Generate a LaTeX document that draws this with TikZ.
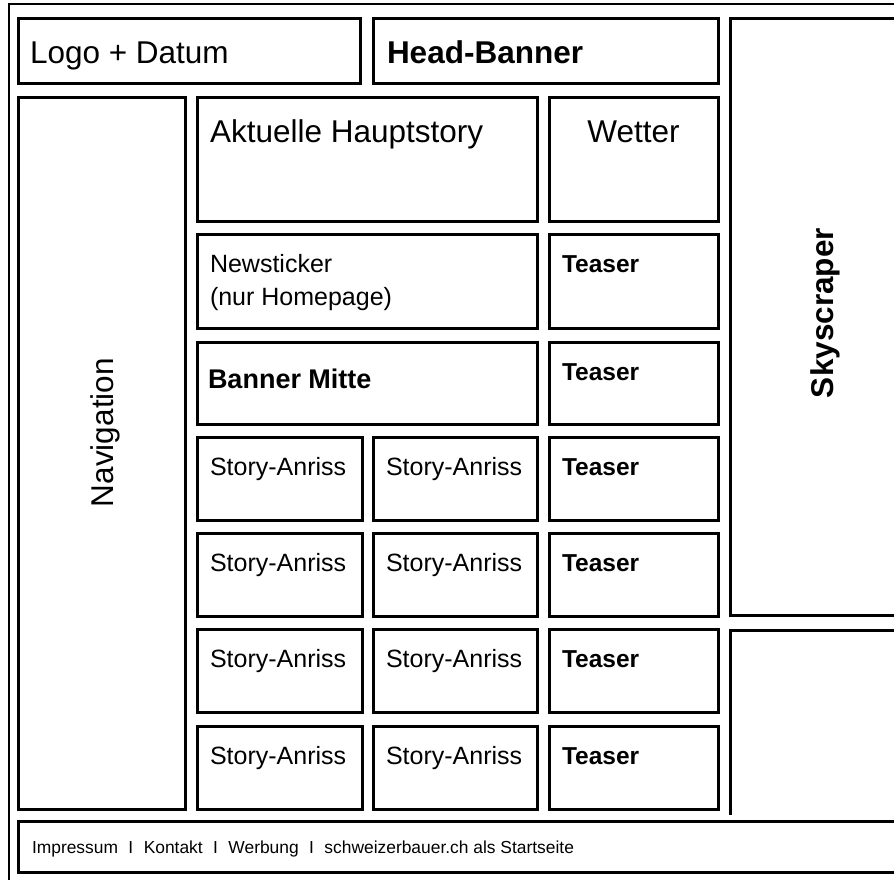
\documentclass[tikz,border=0pt]{standalone}
\usepackage{fontspec}
\setmainfont{Liberation Sans}
\newcommand\footsep{\hspace{0.6em}I\hspace{0.6em}}
\begin{document}
\begin{tikzpicture}[x=1pt, y=-1pt, box/.style={draw, line width=3pt, line join=miter}, lbl/.style={anchor=base west, inner sep=0pt, outer sep=0pt}, big/.style={font=\fontsize{31.5}{36}\selectfont}, mid/.style={font=\fontsize{25}{33}\selectfont}, line join=miter]
      \useasboundingbox (0,0) rectangle (894,879);
      \clip (0,0) rectangle (894,879);

      % outer frame and head
      \draw[line width=2.6pt] (9,4) rectangle (930,910);
      \draw[box] (18,18) rectangle (360,83);
      \draw[box] (373,18) rectangle (718,83);
      \draw[box] (730,18) rectangle (930,615);
      \draw[box] (930,630) -- (730,630) -- (730,815);
      \draw[box] (18,821) rectangle (930,872);
      \draw[box] (18,97) rectangle (185,809);

      % main column
      \draw[box] (197,97) rectangle (537,221);
      \draw[box] (549,97) rectangle (718,221);
      \draw[box] (197,234) rectangle (537,328);
      \draw[box] (549,234) rectangle (718,328);
      \draw[box] (197,342) rectangle (537,424);
      \draw[box] (549,342) rectangle (718,424);
      \foreach \y in {437,533,629,726} {
        \draw[box] (197,\y) rectangle (362,\y+83);
        \draw[box] (373,\y) rectangle (537,\y+83);
        \draw[box] (549,\y) rectangle (718,\y+83);
      }

      % labels
      \node[lbl, big] (logo) at (30,63) {Logo + Datum};
      \node[lbl, big, font=\fontsize{31.5}{36}\selectfont\bfseries] (headbanner) at (387,63) {Head-Banner};
      \node[lbl, big, rotate=90] (nav) at (113,507) {Navigation};
      \node[lbl, big, font=\fontsize{31.5}{36}\selectfont\bfseries, rotate=90] (skyscraper) at (833,398) {Skyscraper};
      \node[lbl, big] (hauptstory) at (210,142) {Aktuelle Hauptstory};
      \node[anchor=base, big, inner sep=0pt] (wetter) at (633.5,142) {Wetter};
      \node[lbl, mid, align=left] (newsticker) at (210,305) {Newsticker\\(nur Homepage)};
      \node[lbl, font=\fontsize{27}{33}\selectfont\bfseries] (bannermitte) at (208,388) {Banner Mitte};
      \foreach \y [count=\i] in {234,342} \node[lbl, font=\fontsize{24.5}{30}\selectfont\bfseries] (teaser-\i) at (562,\y+38) {Teaser};
      \foreach \y [count=\i from 3] in {437,533,629,726} {
        \node[lbl, mid] (story-l-\i) at (210,\y+38) {Story-Anriss};
        \node[lbl, mid] (story-r-\i) at (386,\y+38) {Story-Anriss};
        \node[lbl, font=\fontsize{24.5}{30}\selectfont\bfseries] (teaser-\i) at (562,\y+38) {Teaser};
      }
      \node[lbl, font=\fontsize{17.4}{20}\selectfont] (footer) at (32,853) {Impressum\footsep Kontakt\footsep Werbung\footsep schweizerbauer.ch als Startseite};
    \end{tikzpicture}
\end{document}
